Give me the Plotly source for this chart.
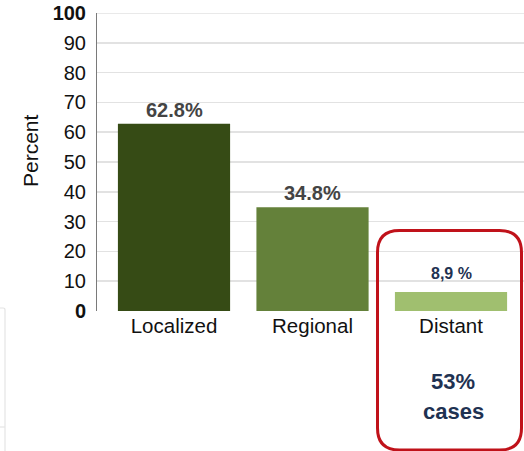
import plotly.graph_objects as go

categories = ["Localized", "Regional", "Distant"]
values = [62.8, 34.8, 6.4]
bar_labels = ["62.8%", "34.8%", "8,9 %"]
bar_colors = ["#364B15", "#64813A", "#A0BF6F"]
y_ticks = [0, 10, 20, 30, 40, 50, 60, 70, 80, 90, 100]
y_ticktext = ["<b>0</b>", "10", "20", "30", "40", "50", "60", "70", "80", "90", "<b>100</b>"]
note_lines = ["53%", "cases"]

W, H = 524, 451
ML, MR, MT, MB = 97, 0, 13, 140
PW, PH = W - ML - MR, H - MT - MB
PLOT_L, PLOT_B = ML, H - MB


def px(x):
    return (x - PLOT_L) / PW


def py(y):
    return (PLOT_B - y) / PH


fig = go.Figure()
fig.add_trace(go.Bar(
    x=categories, y=values, marker=dict(color=bar_colors, line=dict(width=0)),
    width=0.81, hoverinfo="skip",
))

# value labels
label_fonts = [
    dict(family="Liberation Sans, Arial, sans-serif", size=20, color="#444444"),
    dict(family="Liberation Sans, Arial, sans-serif", size=20, color="#444444"),
    dict(family="Liberation Sans Narrow, Arial Narrow, Liberation Sans, sans-serif", size=16, color="#1F3252"),
]
shifts = [1, 1, 8]
for c, v, t, f, s in zip(categories, values, bar_labels, label_fonts, shifts):
    fig.add_annotation(x=c, y=v, text=f"<b>{t}</b>", showarrow=False, yanchor="bottom",
                       yshift=s, font=f)

# y-axis title
fig.add_annotation(xref="paper", yref="paper", x=px(30), y=py(151), text="Percent",
                   textangle=-90, showarrow=False, xanchor="center", yanchor="middle",
                   font=dict(family="Liberation Sans, Arial, sans-serif", size=21, color="#111111"))

# note inside red box
note_font = "Liberation Sans Narrow, Arial Narrow, Liberation Sans, sans-serif"
fig.add_annotation(xref="paper", yref="paper", x=px(453), y=py(381), text=f"<b>{note_lines[0]}</b>",
                   showarrow=False, xanchor="center", yanchor="middle",
                   font=dict(family=note_font, size=22, color="#1F3252"))
fig.add_annotation(xref="paper", yref="paper", x=px(453), y=py(411), text=f"<b>{note_lines[1]}</b>",
                   showarrow=False, xanchor="center", yanchor="middle",
                   font=dict(family=note_font, size=22, color="#1F3252"))

# red rounded rectangle
x0, x1, y0, y1 = px(377.5), px(521.5), py(450), py(230.5)
rx, ry = 22 / PW, 22 / PH
path = (f"M {x0+rx},{y1} L {x1-rx},{y1} Q {x1},{y1} {x1},{y1-ry} "
        f"L {x1},{y0+ry} Q {x1},{y0} {x1-rx},{y0} L {x0+rx},{y0} "
        f"Q {x0},{y0} {x0},{y0+ry} L {x0},{y1-ry} Q {x0},{y1} {x0+rx},{y1} Z")
fig.add_shape(type="path", xref="paper", yref="paper", path=path,
              line=dict(color="#C0121A", width=3), fillcolor="rgba(0,0,0,0)")

# faint panel edge at bottom-left
fig.add_shape(type="path", xref="paper", yref="paper",
              path=f"M {px(0)},{py(308)} L {px(3)},{py(308)} Q {px(5)},{py(308)} {px(5)},{py(310)} L {px(5)},{py(452)}",
              line=dict(color="#E4E4E4", width=1.2))
fig.add_shape(type="line", xref="paper", yref="paper", x0=px(0), x1=px(5), y0=py(427), y1=py(427),
              line=dict(color="#E4E4E4", width=1.2))

# top gridline at 100
fig.add_shape(type="line", xref="paper", yref="y", x0=0, x1=1, y0=y_ticks[-1], y1=y_ticks[-1],
              line=dict(color="#E2E2E2", width=1.5), layer="below")

fig.update_layout(
    width=W, height=H, margin=dict(l=ML, r=MR, t=MT, b=MB),
    paper_bgcolor="white", plot_bgcolor="white", showlegend=False,
    font=dict(family="Liberation Sans, Arial, sans-serif", color="#111111"),
)
fig.update_xaxes(range=[-0.556, 2.527], showgrid=False, showline=False, ticks="",
                 tickfont=dict(size=20.5, color="#111111"), fixedrange=True)
fig.update_yaxes(range=[0, 100], tickvals=y_ticks, ticktext=y_ticktext,
                 showgrid=True, gridcolor="#E2E2E2", gridwidth=1.5,
                 zeroline=False, showline=True, linecolor="#7A7A7A", linewidth=1,
                 ticks="", ticklabelstandoff=6,
                 tickfont=dict(size=20, color="#111111"), fixedrange=True)

fig.write_html("out.html", config={"displayModeBar": False, "staticPlot": True},
               post_script="document.body.style.margin='0';document.body.style.overflow='hidden';")
